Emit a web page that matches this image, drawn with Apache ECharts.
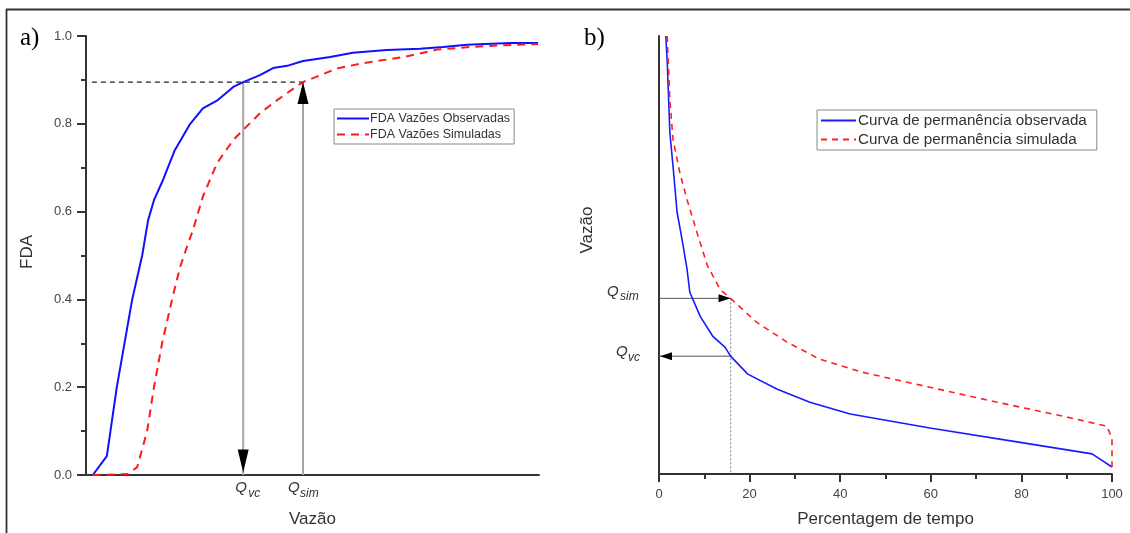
<!DOCTYPE html>
<html><head><meta charset="utf-8">
<script src="https://cdn.jsdelivr.net/npm/echarts@6/dist/echarts.min.js"></script>
<style>html,body{margin:0;padding:0;background:#fff}#c{width:1130px;height:533px}</style>
</head><body><div id="c"></div>
<script>
// ---- Panel a) : FDA (cumulative distribution) ----
const fdaObsX = [1.5, 4.6, 6.8, 10.2, 12.4, 13.7, 15.0, 17.0, 19.6, 23.0, 25.8, 29.1, 32.5, 34.7, 38.4, 41.3, 44.4, 47.9, 53.9, 58.9, 66.4, 73.7, 78.8, 84.1, 93.6, 99.8];
const fdaObsY = [0.0, 0.043, 0.20, 0.40, 0.50, 0.58, 0.626, 0.672, 0.74, 0.80, 0.835, 0.854, 0.884, 0.895, 0.911, 0.927, 0.932, 0.943, 0.952, 0.962, 0.968, 0.971, 0.975, 0.980, 0.984, 0.984];
const fdaSimX = [1.5, 9.3, 11.3, 13.5, 15.0, 16.8, 19.0, 20.8, 22.3, 23.6, 25.8, 28.9, 32.5, 34.7, 38.4, 42.2, 46.6, 47.9, 55.4, 61.1, 70.0, 77.5, 84.8, 92.1, 99.8];
const fdaSimY = [0.0, 0.002, 0.018, 0.10, 0.20, 0.30, 0.40, 0.475, 0.52, 0.558, 0.634, 0.71, 0.763, 0.786, 0.824, 0.854, 0.886, 0.895, 0.926, 0.938, 0.952, 0.969, 0.975, 0.979, 0.982];
const qvcX = 34.7, qsimX = 47.9, qLevel = 0.895, dashStartX = 1.3;
const fdaTicks = [0, 0.2, 0.4, 0.6, 0.8, 1.0];

// ---- Panel b) : flow duration curves ----
const pctObsX = [1.5, 1.8, 2.4, 3.1, 4.0, 5.1, 6.2, 6.8, 9.1, 11.9, 14.6, 15.8, 19.6, 26.0, 33.3, 42.2, 59.8, 80.4, 95.6, 100];
const pctObsY = [100, 94.5, 77.9, 70.2, 59.7, 53.5, 46.7, 41.5, 36.0, 31.4, 28.9, 26.9, 22.8, 19.4, 16.4, 13.7, 10.5, 7.1, 4.6, 1.6];
const pctSimX = [1.8, 2.4, 3.1, 4.6, 6.2, 8.4, 10.6, 13.5, 15.8, 21.6, 28.3, 35.5, 45.0, 59.8, 74.6, 89.2, 98.9, 100, 100];
const pctSimY = [100, 85.4, 76.3, 68.8, 62.6, 55.1, 47.8, 42.1, 40.1, 34.6, 30.1, 26.2, 23.2, 19.8, 16.4, 13.2, 10.9, 8.0, 1.6];
const pctMark = 15.8, qSimLevel = 40.1, qVcLevel = 26.9;
const pctTicks = [0, 20, 40, 60, 80, 100];

const nameObsA = 'FDA Vazões Observadas', nameSimA = 'FDA Vazões Simuladas';
const nameObsB = 'Curva de permanência observada', nameSimB = 'Curva de permanência simulada';

const FONT = '"Liberation Sans", Arial, sans-serif';
const zip = (a, b) => a.map((v, i) => [v, b[i]]);

const chart = echarts.init(document.getElementById('c'), null, {renderer: 'canvas'});

const axisLineStyle = {color: '#333', width: 2};
const grayArrow = '#a6a6a6';
const arrowStyle = {color: '#000', opacity: 1};

const option = {
  animation: false,
  backgroundColor: '#fff',
  grid: [
    {left: 86, top: 36, width: 453, height: 439},
    {left: 659, top: 36, width: 453, height: 439}
  ],
  xAxis: [
    {gridIndex: 0, type: 'value', min: 0, max: 100,
     axisLine: {show: true, onZero: false, lineStyle: axisLineStyle},
     axisTick: {show: false}, axisLabel: {show: false}, splitLine: {show: false},
     name: 'Vazão', nameLocation: 'middle', nameGap: 36,
     nameTextStyle: {fontFamily: FONT, fontSize: 17, color: '#333'}},
    {gridIndex: 1, type: 'value', min: 0, max: 100, interval: 20,
     axisLine: {show: true, onZero: false, lineStyle: axisLineStyle},
     axisTick: {show: true, length: 8, lineStyle: {color: '#333', width: 2}},
     minorTick: {show: true, splitNumber: 2, length: 5, lineStyle: {color: '#333', width: 2}},
     axisLabel: {show: true, margin: 14, fontFamily: FONT, fontSize: 13, color: '#444',
                 formatter: v => String(v)},
     splitLine: {show: false},
     name: 'Percentagem de tempo', nameLocation: 'middle', nameGap: 37,
     nameTextStyle: {fontFamily: FONT, fontSize: 17, color: '#333'}}
  ],
  yAxis: [
    {gridIndex: 0, type: 'value', min: 0, max: 1, interval: 0.2,
     axisLine: {show: true, onZero: false, lineStyle: axisLineStyle},
     axisTick: {show: true, length: 9, lineStyle: {color: '#333', width: 2}},
     minorTick: {show: true, splitNumber: 2, length: 5, lineStyle: {color: '#333', width: 2}},
     axisLabel: {show: true, margin: 14, fontFamily: FONT, fontSize: 13, color: '#444',
                 formatter: v => v.toFixed(1)},
     splitLine: {show: false}},
    {gridIndex: 1, type: 'value', min: 0, max: 100,
     axisLine: {show: true, onZero: false, lineStyle: axisLineStyle},
     axisTick: {show: false}, axisLabel: {show: false}, splitLine: {show: false}}
  ],
  legend: [
    {data: [nameObsA, nameSimA], orient: 'vertical', left: 334, top: 109,
     itemWidth: 32, itemHeight: 12, itemGap: 3, padding: [3, 4, 3, 2],
     borderColor: '#888', borderWidth: 1, backgroundColor: '#fff',
     selectedMode: false, itemStyle: {opacity: 0},
     textStyle: {fontFamily: FONT, fontSize: 12.5, color: '#333', padding: [0, 0, 0, -4]}},
    {data: [nameObsB, nameSimB], orient: 'vertical', left: 817, top: 110,
     itemWidth: 35, itemHeight: 14, itemGap: 4, padding: [3, 10, 3, 3],
     borderColor: '#888', borderWidth: 1, backgroundColor: '#fff',
     selectedMode: false, itemStyle: {opacity: 0},
     textStyle: {fontFamily: FONT, fontSize: 15.2, color: '#333', padding: [0, 0, 0, -3]}}
  ],
  series: [
    // panel a annotations
    {type: 'line', xAxisIndex: 0, yAxisIndex: 0, symbol: 'none', silent: true, clip: false,
     data: [[dashStartX, qLevel], [qsimX, qLevel]],
     lineStyle: {color: '#222', width: 1.3, type: [5, 4]}, z: 3},
    {type: 'line', xAxisIndex: 0, yAxisIndex: 0, symbol: 'none', silent: true, clip: false,
     data: [[qvcX, qLevel], [qvcX, 0]], lineStyle: {color: grayArrow, width: 2}, z: 1},
    {type: 'line', xAxisIndex: 0, yAxisIndex: 0, symbol: 'none', silent: true, clip: false,
     data: [[qsimX, 0], [qsimX, qLevel]], lineStyle: {color: grayArrow, width: 2}, z: 1},
    {type: 'scatter', xAxisIndex: 0, yAxisIndex: 0, silent: true, clip: false,
     symbol: 'path://M0,0 L11,0 L5.5,23 Z', symbolSize: [11, 23], symbolOffset: [0, -14],
     itemStyle: arrowStyle, data: [[qvcX, 0]], z: 5},
    {type: 'scatter', xAxisIndex: 0, yAxisIndex: 0, silent: true, clip: false,
     symbol: 'path://M5.5,0 L11,22 L0,22 Z', symbolSize: [11, 22], symbolOffset: [0, 11],
     itemStyle: arrowStyle, data: [[qsimX, qLevel]], z: 5},
    // panel a curves
    {name: nameObsA, type: 'line', xAxisIndex: 0, yAxisIndex: 0, symbol: 'none', showSymbol: false,
     data: zip(fdaObsX, fdaObsY), lineStyle: {color: '#1010ff', width: 2}, itemStyle: {color: '#1010ff'}, z: 4},
    {name: nameSimA, type: 'line', xAxisIndex: 0, yAxisIndex: 0, symbol: 'none', showSymbol: false,
     data: zip(fdaSimX, fdaSimY), lineStyle: {color: '#ff1a1a', width: 2, type: [8, 6]}, itemStyle: {color: '#ff1a1a'}, z: 4},
    // panel b annotations
    {type: 'line', xAxisIndex: 1, yAxisIndex: 1, symbol: 'none', silent: true, clip: false,
     data: [[pctMark, qSimLevel], [pctMark, 0]], lineStyle: {color: '#999', width: 1.3, type: [2, 2]}, z: 1},
    {type: 'line', xAxisIndex: 1, yAxisIndex: 1, symbol: 'none', silent: true, clip: false,
     data: [[0, qSimLevel], [pctMark, qSimLevel]], lineStyle: {color: '#555', width: 1}, z: 2},
    {type: 'line', xAxisIndex: 1, yAxisIndex: 1, symbol: 'none', silent: true, clip: false,
     data: [[pctMark, qVcLevel], [0, qVcLevel]], lineStyle: {color: '#555', width: 1}, z: 2},
    {type: 'scatter', xAxisIndex: 1, yAxisIndex: 1, silent: true, clip: false,
     symbol: 'path://M0,0 L12,4 L0,8 Z', symbolSize: [12, 8], symbolOffset: [-6, 0],
     itemStyle: arrowStyle, data: [[pctMark, qSimLevel]], z: 5},
    {type: 'scatter', xAxisIndex: 1, yAxisIndex: 1, silent: true, clip: false,
     symbol: 'path://M12,0 L0,4 L12,8 Z', symbolSize: [12, 8], symbolOffset: [7, 0],
     itemStyle: arrowStyle, data: [[0, qVcLevel]], z: 5},
    // panel b curves
    {name: nameObsB, type: 'line', xAxisIndex: 1, yAxisIndex: 1, symbol: 'none', showSymbol: false,
     data: zip(pctObsX, pctObsY), lineStyle: {color: '#1a1aff', width: 1.6}, itemStyle: {color: '#1a1aff'}, z: 4},
    {name: nameSimB, type: 'line', xAxisIndex: 1, yAxisIndex: 1, symbol: 'none', showSymbol: false,
     data: zip(pctSimX, pctSimY), lineStyle: {color: '#ff2020', width: 1.6, type: [6, 5]}, itemStyle: {color: '#ff2020'}, z: 4}
  ]
};
chart.setOption(option);

// text annotations placed through the axes' scales
const pA = (x, y) => chart.convertToPixel({gridIndex: 0}, [x, y]);
const pB = (x, y) => chart.convertToPixel({gridIndex: 1}, [x, y]);
const italic = (x, y, text, size) => ({
  type: 'text', x: x, y: y, silent: true,
  style: {text: text, fill: '#333', font: 'italic ' + size + 'px ' + FONT,
    textAlign: 'left', align: 'left', textVerticalAlign: 'middle', verticalAlign: 'middle'}
});

const qvcPx = pA(qvcX, 0), qsimPx = pA(qsimX, 0);
const qsLvl = pB(0, qSimLevel), qvLvl = pB(0, qVcLevel);
const serif = '"Liberation Serif", "Times New Roman", serif';

chart.setOption({graphic: [
  // frame lines
  {type: 'line', shape: {x1: 6, y1: 9.5, x2: 1130, y2: 9.5}, style: {stroke: '#333', lineWidth: 1.8}, silent: true},
  {type: 'line', shape: {x1: 6.5, y1: 9, x2: 6.5, y2: 533}, style: {stroke: '#333', lineWidth: 1.8}, silent: true},
  // panel labels
  {type: 'text', x: 20, y: 38, silent: true, style: {text: 'a)', font: '25px ' + serif, fill: '#000', textAlign: 'left', align: 'left', textVerticalAlign: 'middle', verticalAlign: 'middle'}},
  {type: 'text', x: 584, y: 38, silent: true, style: {text: 'b)', font: '25px ' + serif, fill: '#000', textAlign: 'left', align: 'left', textVerticalAlign: 'middle', verticalAlign: 'middle'}},
  // rotated y titles
  {type: 'text', x: 27, y: 252, rotation: Math.PI / 2, silent: true, style: {text: 'FDA', font: '17px ' + FONT, fill: '#333', textAlign: 'center', align: 'center', textVerticalAlign: 'middle', verticalAlign: 'middle'}},
  {type: 'text', x: 587, y: 230, rotation: Math.PI / 2, silent: true, style: {text: 'Vazão', font: '17px ' + FONT, fill: '#333', textAlign: 'center', align: 'center', textVerticalAlign: 'middle', verticalAlign: 'middle'}},
  // panel a Q labels
  italic(qvcPx[0] - 8, qvcPx[1] + 13, 'Q', 15),
  italic(qvcPx[0] + 5, qvcPx[1] + 19, 'vc', 12),
  italic(qsimPx[0] - 15, qsimPx[1] + 13, 'Q', 15),
  italic(qsimPx[0] - 3, qsimPx[1] + 19, 'sim', 12),
  // panel b Q labels
  italic(qsLvl[0] - 52, qsLvl[1] - 7, 'Q', 15),
  italic(qsLvl[0] - 39, qsLvl[1] - 2, 'sim', 12),
  italic(qvLvl[0] - 43, qvLvl[1] - 4, 'Q', 15),
  italic(qvLvl[0] - 31, qvLvl[1] + 1, 'vc', 12)
]});
</script></body></html>
